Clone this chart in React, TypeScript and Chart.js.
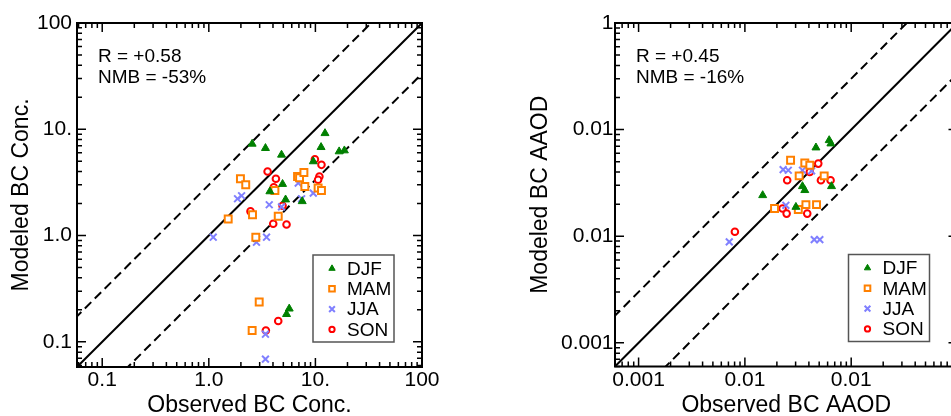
import React, { useEffect, useRef } from 'react';
import { Chart, registerables } from 'chart.js';

Chart.register(...registerables);

const FONT = "'Liberation Sans', Arial, Helvetica, sans-serif";

// ---------- shared ----------
const seasons = ['DJF', 'MAM', 'JJA', 'SON'];
const seasonColors = ['#008000', '#ff8000', '#8080ff', '#ff0000'];

// ---------- left panel: BC concentration [observed, modeled] ----------
const concDJF: [number, number][] = [
  [2.55, 7.29], [3.4, 6.64], [4.81, 5.75], [12.3, 9.17], [11.3, 6.78], [16.7, 6.18],
  [18.7, 6.31], [9.55, 4.98], [4.92, 3.05], [3.74, 2.6], [5.25, 2.18], [7.52, 2.1],
  [5.68, 0.205], [5.36, 0.182],
];
const concMAM: [number, number][] = [
  [1.98, 3.42], [2.22, 3.01], [1.52, 1.43], [2.57, 1.57], [2.76, 0.965], [4.17, 2.66],
  [4.48, 1.52], [6.8, 3.6], [7.1, 3.5], [7.8, 3.92], [7.96, 2.9], [10.6, 2.8],
  [11.4, 2.66], [2.97, 0.237], [2.55, 0.128],
];
const concJJA: [number, number][] = [
  [1.1, 0.965], [1.86, 2.22], [2.03, 2.37], [2.8, 0.866], [3.48, 0.965], [3.69, 1.95],
  [4.81, 1.86], [6.9, 3.12], [9.55, 2.51], [7.42, 2.22], [3.4, 0.118], [3.4, 0.0688],
];
const concSON: [number, number][] = [
  [3.56, 4.01], [4.26, 3.42], [4.07, 2.84], [2.46, 1.69], [4.02, 1.29], [5.36, 1.27],
  [4.92, 1.91], [9.89, 5.23], [11.4, 4.63], [10.9, 3.6], [10.6, 3.35], [4.48, 0.157],
  [3.43, 0.128],
];
const concRange = [0.058, 100];
const concTickValues = [0.1, 1, 10, 100];
const concXTickLabels = ['0.1', '1.0', '10.', '100'];
const concYTickLabels = ['0.1', '1.0', '10.', '100'];
const concStats = ['R = +0.58', 'NMB = -53%'];
const concXTitle = 'Observed BC Conc.';
const concYTitle = 'Modeled BC Conc.';
const concLineEnds = [0.01, 1000];

// ---------- right panel: BC AAOD [observed, modeled] ----------
const aaodDJF: [number, number][] = [
  [0.0147, 0.0242], [0.0466, 0.0678], [0.0621, 0.0794], [0.0644, 0.0739],
  [0.0348, 0.0294], [0.0366, 0.027], [0.0653, 0.0294], [0.0302, 0.0188],
];
const aaodMAM: [number, number][] = [
  [0.0269, 0.0516], [0.0366, 0.0487], [0.0408, 0.0463], [0.0324, 0.0368],
  [0.0557, 0.0368], [0.019, 0.0182], [0.0318, 0.0178], [0.0375, 0.0198], [0.0472, 0.0198],
];
const aaodJJA: [number, number][] = [
  [0.0229, 0.0422], [0.0256, 0.0416], [0.0348, 0.0416], [0.0424, 0.041],
  [0.0243, 0.0195], [0.00713, 0.00885], [0.0449, 0.0093], [0.0507, 0.0093],
];
const aaodSON: [number, number][] = [
  [0.00805, 0.011], [0.025, 0.0335], [0.0226, 0.0182], [0.0247, 0.0163],
  [0.0386, 0.0163], [0.0408, 0.0401], [0.049, 0.048], [0.0519, 0.0335], [0.064, 0.0335],
];
const aaodRange = [0.0006, 1];
const aaodXTickValues = [0.001, 0.01, 0.1];
const aaodXTickLabels = ['0.001', '0.01', '0.01'];
const aaodYTickValues = [0.001, 0.01, 0.1, 1];
const aaodYTickLabels = ['0.001', '0.01', '0.01', '1'];
const aaodStats = ['R = +0.45', 'NMB = -16%'];
const aaodXTitle = 'Observed BC AAOD';
const aaodYTitle = 'Modeled BC AAOD';
const aaodLineEnds = [0.00001, 10];

// reference lines: 1:1 and factor-of-3
const refFactors = [1, 3, 1 / 3];

// ---------- marker drawing (legend) ----------
function drawMarker(ctx: CanvasRenderingContext2D, i: number, x: number, y: number, s: number) {
  const c = seasonColors[i];
  ctx.save();
  ctx.lineWidth = 2;
  ctx.strokeStyle = c;
  ctx.fillStyle = c;
  ctx.beginPath();
  if (i === 0) {
    const r = 4.3 * s;
    for (let k = 0; k < 3; k++) {
      const a = (k * 2 * Math.PI) / 3;
      const px = x + Math.sin(a) * r;
      const py = y - Math.cos(a) * r;
      if (k === 0) ctx.moveTo(px, py); else ctx.lineTo(px, py);
    }
    ctx.closePath();
    ctx.lineWidth = 1;
    ctx.fill();
    ctx.stroke();
  } else if (i === 1) {
    const h = 3.3 * s;
    ctx.fillStyle = '#fff';
    ctx.rect(x - h, y - h, 2 * h, 2 * h);
    ctx.fill();
    ctx.stroke();
  } else if (i === 2) {
    const h = 3.4 * s;
    ctx.moveTo(x - h, y - h); ctx.lineTo(x + h, y + h);
    ctx.moveTo(x - h, y + h); ctx.lineTo(x + h, y - h);
    ctx.stroke();
  } else {
    ctx.fillStyle = '#fff';
    ctx.arc(x, y, 3.1 * s, 0, Math.PI * 2);
    ctx.fill();
    ctx.stroke();
  }
  ctx.restore();
}

const framePlugin = (stats: string[]) => ({
  id: 'frameAndDecor',
  afterDraw(chart: any) {
    const ctx: CanvasRenderingContext2D = chart.ctx;
    const { left, right, top, bottom } = chart.chartArea;
    const xs = chart.scales.x;
    const ys = chart.scales.y;
    ctx.save();
    // ticks on all four sides (inward)
    ctx.strokeStyle = '#000';
    ctx.lineWidth = 1.5;
    const doTicks = (scale: any, horizontal: boolean) => {
      const lo = Math.floor(Math.log10(scale.min)) - 1;
      const hi = Math.ceil(Math.log10(scale.max)) + 1;
      for (let d = lo; d <= hi; d++) {
        for (let k = 1; k <= 9; k++) {
          const v = k * Math.pow(10, d);
          if (v < scale.min * 0.999 || v > scale.max * 1.001) continue;
          const p = scale.getPixelForValue(v);
          const len = k === 1 ? 9 : 5;
          ctx.beginPath();
          if (horizontal) {
            ctx.moveTo(p, bottom); ctx.lineTo(p, bottom - len);
            ctx.moveTo(p, top); ctx.lineTo(p, top + len);
          } else {
            ctx.moveTo(left, p); ctx.lineTo(left + len, p);
            ctx.moveTo(right, p); ctx.lineTo(right - len, p);
          }
          ctx.stroke();
        }
      }
    };
    doTicks(xs, true);
    doTicks(ys, false);
    // frame
    ctx.lineWidth = 2;
    ctx.strokeRect(left, top, right - left, bottom - top);

    // statistics text
    ctx.fillStyle = '#000';
    ctx.font = `19px ${FONT}`;
    ctx.textBaseline = 'alphabetic';
    ctx.textAlign = 'left';
    ctx.fillText(stats[0], left + 21, top + 39);
    ctx.fillText(stats[1], left + 21, top + 60);

    // legend box
    const bw = 81, bh = 87;
    const bx = right - 28 - bw;
    const by = bottom - 25 - bh;
    ctx.fillStyle = '#fff';
    ctx.fillRect(bx, by, bw, bh);
    ctx.strokeStyle = '#555';
    ctx.lineWidth = 1.5;
    ctx.strokeRect(bx, by, bw, bh);
    ctx.font = `19px ${FONT}`;
    ctx.textBaseline = 'middle';
    seasons.forEach((s, i) => {
      const cy = by + 13.5 + i * 20.3;
      drawMarker(ctx, i, bx + 19, cy, 0.85);
      ctx.fillStyle = '#000';
      ctx.fillText(s, bx + 34, cy + 1);
    });
    ctx.restore();
  },
});

type PanelProps = {
  canvasLeft: number;
  canvasWidth: number;
  yAxisWidth: number;
  padRight: number;
  padTop: number;
  xAxisHeight: number;
  yTitleOffset: number;
  yTickPad: number;
  range: number[];
  xTickValues: number[];
  xTickLabels: string[];
  yTickValues: number[];
  yTickLabels: string[];
  xTitle: string;
  yTitle: string;
  stats: string[];
  lineEnds: number[];
  series: [number, number][][];
};

function Panel(p: PanelProps) {
  const ref = useRef<HTMLCanvasElement>(null);
  useEffect(() => {
    const pointStyles = ['triangle', 'rect', 'crossRot', 'circle'];
    const radii = [4.6, 4.9, 4.8, 3.3];
    const scatterSets = p.series.map((pts, i) => ({
      label: seasons[i],
      data: pts.map(([x, y]) => ({ x, y })),
      pointStyle: pointStyles[i],
      pointRadius: radii[i],
      borderColor: seasonColors[i],
      backgroundColor: i === 0 ? seasonColors[i] : '#ffffff',
      borderWidth: i === 0 ? 1 : 2,
      showLine: false,
      order: i,
    }));
    const lineSets = refFactors.map((f) => ({
      label: 'ref',
      data: p.lineEnds.map((x) => ({ x, y: x * f })),
      showLine: true,
      borderColor: '#000',
      borderWidth: 2,
      borderDash: f === 1 ? [] : [9, 5],
      pointRadius: 0,
      fill: false,
      tension: 0,
      order: 10,
    }));
    const mkScale = (
      horizontal: boolean,
      tv: number[],
      tl: string[],
      title: string,
    ) => ({
      type: 'logarithmic',
      min: p.range[0],
      max: p.range[1],
      position: horizontal ? 'bottom' : 'left',
      grid: { display: false, drawTicks: false },
      border: { display: false },
      afterBuildTicks: (s: any) => {
        s.ticks = tv.map((v) => ({ value: v }));
      },
      afterFit: (s: any) => {
        if (horizontal) s.height = p.xAxisHeight;
        else s.width = p.yAxisWidth;
      },
      ticks: {
        autoSkip: false,
        maxRotation: 0,
        minRotation: 0,
        color: '#000',
        padding: horizontal ? 1 : p.yTickPad,
        font: { size: 21, family: FONT, lineHeight: 1.2 },
        callback: (_v: any, idx: number) => tl[idx],
      },
      title: {
        display: true,
        text: title,
        color: '#000',
        font: { size: 23, family: FONT, lineHeight: 0.9 },
        padding: horizontal ? { top: 0, bottom: 0 } : { top: p.yTitleOffset, bottom: 0 },
      },
    });
    const chart = new Chart(ref.current as HTMLCanvasElement, {
      type: 'scatter',
      data: { datasets: [...scatterSets, ...lineSets] as any },
      options: {
        animation: false,
        responsive: false,
        devicePixelRatio: 1,
        events: [],
        layout: { padding: { left: 0, top: p.padTop, right: p.padRight, bottom: 0 } },
        plugins: { legend: { display: false }, tooltip: { enabled: false } },
        scales: {
          x: mkScale(true, p.xTickValues, p.xTickLabels, p.xTitle) as any,
          y: mkScale(false, p.yTickValues, p.yTickLabels, p.yTitle) as any,
        },
      },
      plugins: [framePlugin(p.stats)],
    });
    return () => chart.destroy();
  }, []);
  return (
    <canvas
      ref={ref}
      width={p.canvasWidth}
      height={416}
      style={{ position: 'absolute', left: p.canvasLeft, top: 0, width: p.canvasWidth, height: 416 }}
    />
  );
}

export default function App() {
  return (
    <div
      style={{
        position: 'fixed',
        left: 0,
        top: 0,
        width: 951,
        height: 416,
        overflow: 'hidden',
        background: '#fff',
      }}
    >
      <Panel
        canvasLeft={0}
        canvasWidth={480}
        yAxisWidth={77}
        padRight={58}
        padTop={23}
        xAxisHeight={49}
        yTitleOffset={11.6}
        yTickPad={5}
        range={concRange}
        xTickValues={concTickValues}
        xTickLabels={concXTickLabels}
        yTickValues={concTickValues}
        yTickLabels={concYTickLabels}
        xTitle={concXTitle}
        yTitle={concYTitle}
        stats={concStats}
        lineEnds={concLineEnds}
        series={[concDJF, concMAM, concJJA, concSON]}
      />
      <Panel
        canvasLeft={480}
        canvasWidth={520}
        yAxisWidth={135}
        padRight={42.5}
        padTop={23}
        xAxisHeight={49.5}
        yTitleOffset={50.6}
        yTickPad={1.5}
        range={aaodRange}
        xTickValues={aaodXTickValues}
        xTickLabels={aaodXTickLabels}
        yTickValues={aaodYTickValues}
        yTickLabels={aaodYTickLabels}
        xTitle={aaodXTitle}
        yTitle={aaodYTitle}
        stats={aaodStats}
        lineEnds={aaodLineEnds}
        series={[aaodDJF, aaodMAM, aaodJJA, aaodSON]}
      />
    </div>
  );
}
